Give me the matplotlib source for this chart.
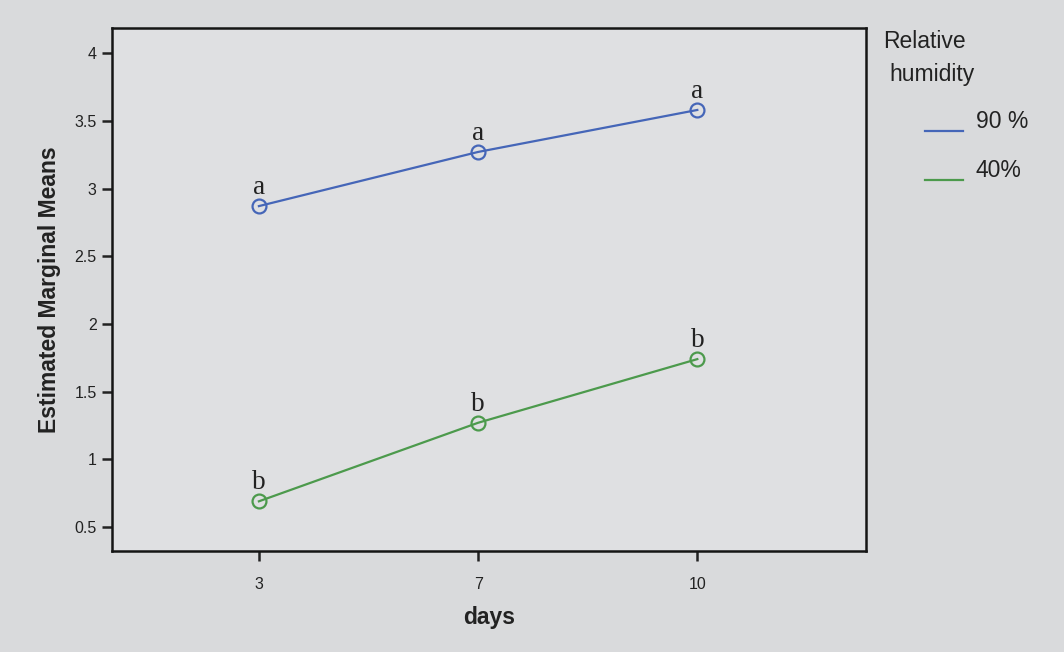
import matplotlib
matplotlib.use("Agg")
import matplotlib.pyplot as plt

days = ["3", "7", "10"]
rh90 = [2.87, 3.27, 3.58]
rh40 = [0.69, 1.27, 1.74]
letters90 = ["a", "a", "a"]
letters40 = ["b", "b", "b"]
yticks = [0.5, 1, 1.5, 2, 2.5, 3, 3.5, 4]

plt.rcParams['font.family'] = ['Liberation Sans', 'DejaVu Sans']

fig = plt.figure(figsize=(10.64, 6.52), dpi=100)
fig.patch.set_facecolor('#d9dadc')
ax = fig.add_axes([0.1053, 0.1549, 0.7087, 0.8021])
ax.set_facecolor('#dfe0e2')

x = list(range(len(days)))
c90 = '#4566b8'
c40 = '#4c9a4c'
ax.plot(x, rh90, color=c90, lw=1.6, marker='o', ms=10, mfc='none', mec=c90, mew=1.6)
ax.plot(x, rh40, color=c40, lw=1.6, marker='o', ms=10, mfc='none', mec=c40, mew=1.6)
for xi, yi, t in zip(x, rh90, letters90):
    ax.text(xi, yi + 0.09, t, ha='center', va='baseline', fontsize=19.5,
            family=['Liberation Serif'], color='#222222')
for xi, yi, t in zip(x, rh40, letters40):
    ax.text(xi, yi + 0.09, t, ha='center', va='baseline', fontsize=19.5,
            family=['Liberation Serif'], color='#222222')

ax.set_xlim(-0.67, 2.77)
ax.set_ylim(0.323, 4.185)
ax.set_xticks(x)
ax.set_xticklabels(days)
ax.set_yticks(yticks)
ax.set_yticklabels([f"{v:g}" for v in yticks])
ax.tick_params(direction='out', length=7, width=1.8, labelsize=11.5, colors='#222222', pad=4)
ax.tick_params(axis='x', pad=12)
for s in ax.spines.values():
    s.set_linewidth(1.8)
    s.set_color('#151515')

ax.set_ylabel('Estimated Marginal Means', fontsize=16.5, fontweight='bold', color='#222222', labelpad=10)
ax.set_xlabel('days', fontsize=16.5, fontweight='bold', color='#222222', labelpad=10)

fig.text(883/1064, 1-30/652, 'Relative', fontsize=16.5, color='#222222', ha='left', va='top')
fig.text(889/1064, 1-63/652, 'humidity', fontsize=16.5, color='#222222', ha='left', va='top')
fig.lines.append(plt.Line2D([925/1064, 963/1064], [1-131/652, 1-131/652], color=c90, lw=1.6, transform=fig.transFigure))
fig.lines.append(plt.Line2D([925/1064, 963/1064], [1-180/652, 1-180/652], color=c40, lw=1.6, transform=fig.transFigure))
fig.text(976/1064, 1-121/652, '90 %', fontsize=16.5, color='#222222', ha='left', va='center')
fig.text(976/1064, 1-170/652, '40%', fontsize=16.5, color='#222222', ha='left', va='center')

fig.savefig('out.png', dpi=100, facecolor=fig.get_facecolor())
